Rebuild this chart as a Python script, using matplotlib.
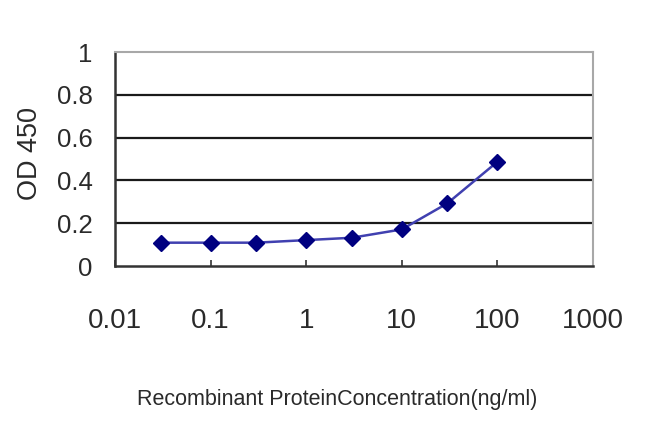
import matplotlib
matplotlib.use("Agg")
import matplotlib.pyplot as plt
from matplotlib.ticker import FixedLocator, NullLocator

conc = [0.03, 0.1, 0.3, 1, 3, 10, 30, 100]
od450 = [0.109, 0.109, 0.109, 0.121, 0.132, 0.171, 0.293, 0.487]
xticks = [0.01, 0.1, 1, 10, 100, 1000]
xticklabels = ["0.01", "0.1", "1", "10", "100", "1000"]
yticks = [0, 0.2, 0.4, 0.6, 0.8, 1]
yticklabels = ["0", "0.2", "0.4", "0.6", "0.8", "1"]

regular = ["Liberation Sans", "DejaVu Sans"]

fig = plt.figure(figsize=(6.5, 4.33), dpi=100)
ax = fig.add_axes([115/650, 1-266/433, (593-115)/650, (266-52)/433])

ax.set_xscale("log")
ax.set_xlim(0.01, 1000)
ax.set_ylim(0, 1)

for y in yticks[1:-1]:
    ax.axhline(y, color="#1a1a1a", lw=1.6, zorder=1)

ax.plot(conc, od450, color="#4040b0", lw=1.8, zorder=3)
ax.plot(conc, od450, linestyle="none", marker="D", ms=8, color="#000080",
        markeredgecolor="#000080", zorder=4)

ax.xaxis.set_major_locator(FixedLocator(xticks))
ax.xaxis.set_minor_locator(NullLocator())
ax.set_xticklabels(xticklabels, fontfamily=regular, fontsize=20, color="#2a2a2a")
ax.tick_params(axis="x", direction="in", length=4, width=1.2, color="#333333", pad=30)

ax.yaxis.set_major_locator(FixedLocator(yticks))
ax.set_yticklabels(yticklabels, fontfamily=regular, fontsize=18.5, color="#2a2a2a")
ax.tick_params(axis="y", length=0, pad=16)

ax.spines["left"].set_color("#333333")
ax.spines["left"].set_linewidth(1.8)
ax.spines["bottom"].set_color("#333333")
ax.spines["bottom"].set_linewidth(1.8)
ax.spines["top"].set_color("#a8a8a8")
ax.spines["top"].set_linewidth(1.5)
ax.spines["right"].set_color("#a8a8a8")
ax.spines["right"].set_linewidth(1.5)

fig.text(337/650, 1-399/433, "Recombinant ProteinConcentration(ng/ml)",
         ha="center", va="center", fontfamily=regular, fontsize=15.5, color="#2a2a2a")
fig.text(30/650, 1-153/433, "OD 450", ha="center", va="center", rotation=90,
         fontfamily=regular, fontsize=19.5, color="#2a2a2a")

fig.savefig("out.png", dpi=100)
